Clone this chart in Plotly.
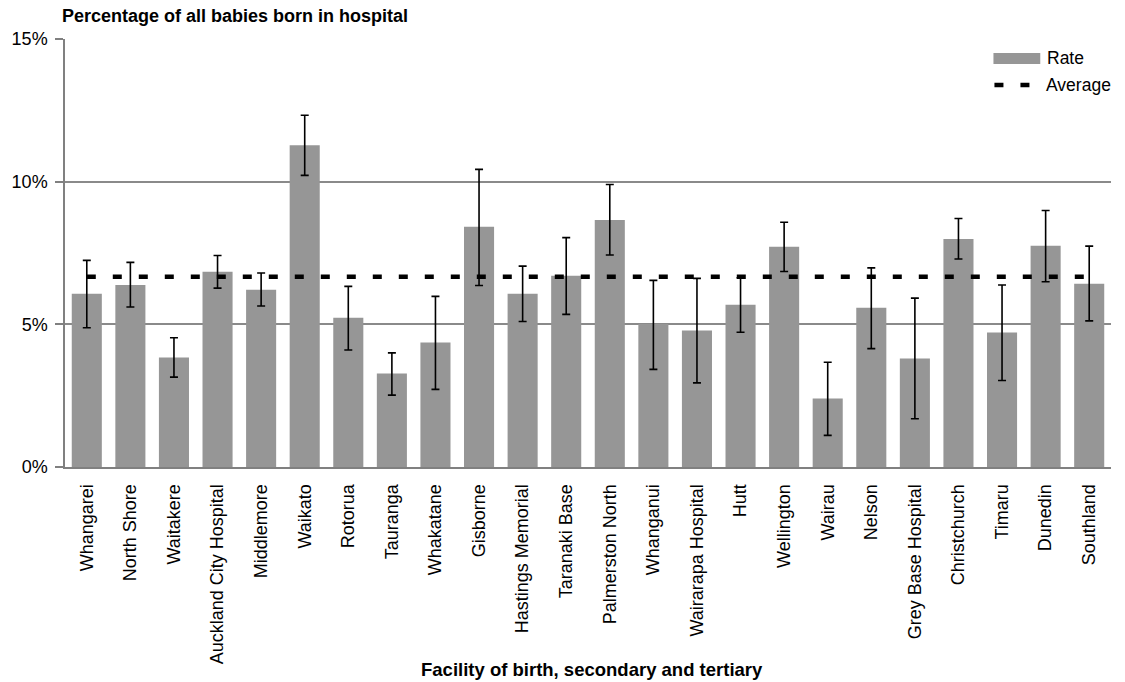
import plotly.graph_objects as go

facilities = ["Whangarei", "North Shore", "Waitakere", "Auckland City Hospital", "Middlemore",
              "Waikato", "Rotorua", "Tauranga", "Whakatane", "Gisborne", "Hastings Memorial",
              "Taranaki Base", "Palmerston North", "Whanganui", "Wairarapa Hospital", "Hutt",
              "Wellington", "Wairau", "Nelson", "Grey Base Hospital", "Christchurch", "Timaru",
              "Dunedin", "Southland"]
rate = [6.07, 6.38, 3.84, 6.84, 6.21, 11.28, 5.23, 3.28, 4.36, 8.42, 6.07, 6.70,
        8.66, 5.01, 4.78, 5.69, 7.72, 2.40, 5.58, 3.80, 7.99, 4.71, 7.75, 6.42]
upper = [7.24, 7.17, 4.53, 7.41, 6.80, 12.33, 6.33, 4.00, 5.98, 10.43, 7.04, 8.04,
         9.90, 6.54, 6.61, 6.63, 8.58, 3.67, 6.98, 5.92, 8.71, 6.38, 8.99, 7.74]
lower = [4.88, 5.61, 3.15, 6.27, 5.64, 10.22, 4.10, 2.52, 2.72, 6.36, 5.10, 5.35,
         7.43, 3.42, 2.95, 4.72, 6.85, 1.11, 4.15, 1.69, 7.29, 3.03, 6.49, 5.12]
average = 6.67
y_ticks = [0, 5, 10, 15]
y_tick_labels = ["0%", "5%", "10%", "15%"]

err_plus = [u - r for u, r in zip(upper, rate)]
err_minus = [r - l for r, l in zip(rate, lower)]

font_family = "Liberation Sans, Arial, sans-serif"
BAR_COLOR = "#969696"
DASH = "9px,17px"

W, H = 1125, 682
L, R, T, B = 61, 14, 39, 215
plot_h = H - T - B
plot_w = W - L - R


def px(x):
    return (x - L) / plot_w


def py(y):
    return (H - B - y) / plot_h


fig = go.Figure()
fig.add_trace(go.Bar(
    x=facilities, y=rate, name="Rate",
    marker=dict(color=BAR_COLOR, line=dict(width=0)),
    error_y=dict(type="data", symmetric=False, array=err_plus, arrayminus=err_minus,
                 color="black", thickness=1.6, width=4),
    showlegend=False, hoverinfo="skip",
))
fig.add_trace(go.Scatter(
    x=facilities, y=[average] * len(facilities), name="Average", mode="lines",
    line=dict(color="black", width=4.5, dash=DASH),
    showlegend=False, hoverinfo="skip",
))

# legend drawn by hand (wide swatch like the reference)
shapes = [
    dict(type="rect", xref="paper", yref="paper", x0=px(993), x1=px(1040), y0=py(64), y1=py(53),
         fillcolor=BAR_COLOR, line=dict(width=0)),
    dict(type="line", xref="paper", yref="paper", x0=px(994), x1=px(1037), y0=py(85), y1=py(85),
         line=dict(color="black", width=4.5, dash=DASH)),
]

annotations = [
    dict(text="<b>Percentage of all babies born in hospital</b>", x=px(56), y=py(16),
         xref="paper", yref="paper", showarrow=False, xanchor="left", yanchor="middle",
         font=dict(size=18)),
    dict(text="<b>Facility of birth, secondary and tertiary</b>", x=px(590), y=py(669),
         xref="paper", yref="paper", showarrow=False, xanchor="center", yanchor="middle",
         font=dict(size=18.5)),
    dict(text="Rate", x=px(1045), y=py(58), xref="paper", yref="paper", showarrow=False,
         xanchor="left", yanchor="middle", font=dict(size=17.5)),
    dict(text="Average", x=px(1044), y=py(85), xref="paper", yref="paper", showarrow=False,
         xanchor="left", yanchor="middle", font=dict(size=17.5)),
]

fig.update_layout(
    width=W, height=H,
    margin=dict(l=L, r=R, t=T, b=B),
    plot_bgcolor="white", paper_bgcolor="white",
    bargap=0.31,
    font=dict(family=font_family, size=18, color="black"),
    showlegend=False,
    hovermode=False,
    shapes=shapes,
    annotations=annotations,
)

fig.update_xaxes(
    tickangle=-90, showline=True, linecolor="#808080", linewidth=2,
    ticks="", tickfont=dict(size=18), showgrid=False, ticklabelstandoff=8,
)
fig.update_yaxes(
    range=[0, 15], tickvals=y_ticks, ticktext=y_tick_labels,
    showline=True, linecolor="#808080", linewidth=1.5,
    ticks="outside", ticklen=8, tickcolor="#808080", tickwidth=1.5,
    showgrid=True, gridcolor="#8a8a8a", gridwidth=1.5,
    tickfont=dict(size=18), zeroline=False, ticklabelstandoff=4,
)

fig.write_html("out.html", config={"displayModeBar": False},
               post_script="document.body.style.margin='0';")
